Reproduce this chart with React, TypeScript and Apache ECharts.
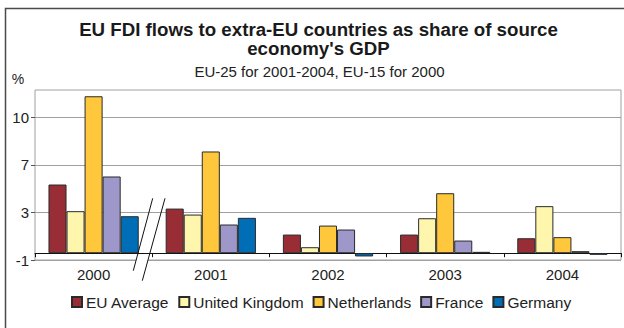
import React, { useEffect, useRef } from "react";
import * as echarts from "echarts";

const years = ["2000", "2001", "2002", "2003", "2004"];
const euAverage = [5.05, 3.28, 1.37, 1.37, 1.1];
const unitedKingdom = [3.09, 2.84, 0.44, 2.57, 3.46];
const netherlands = [11.54, 7.48, 2.03, 4.41, 1.18];
const france = [5.64, 2.11, 1.74, 0.93, 0.15];
const germany = [2.72, 2.6, -0.24, 0.1, -0.12];

const seriesNames = ["EU Average", "United Kingdom", "Netherlands", "France", "Germany"];
const seriesColors = ["#982D35", "#FFF6AE", "#FFC83C", "#9E97C9", "#006EB6"];

// Value-axis gridlines sit at -0.5, 3, 6.5, 10 (shown rounded as in the source)
const yMin = -0.5;
const yMax = 12;
const yStep = 3.5;
const yTickLabels = ["-1", "3", "7", "10"];

const titleLines = ["EU FDI flows to extra-EU countries as share of source", "economy's GDP"];
const subtitle = "EU-25 for 2001-2004, EU-15 for 2000";

export default function App() {
  const ref = useRef<HTMLDivElement>(null);
  useEffect(() => {
    if (!ref.current) return;
    const chart = echarts.init(ref.current, null, { renderer: "svg" });
    const font = "'Liberation Sans', Arial, sans-serif";
    const dataSets = [euAverage, unitedKingdom, netherlands, france, germany];
    const span = yMax - yMin;
    const option: any = {
      animation: false,
      textStyle: { fontFamily: font },
      grid: {
        left: 35,
        top: 90,
        right: 3,
        bottom: 68,
        show: true,
        borderColor: "#a0a0a0",
        borderWidth: 1,
      },
      legend: {
        left: 71,
        top: 294,
        padding: 0,
        icon: "rect",
        itemWidth: 10,
        itemHeight: 10,
        itemGap: 9,
        data: seriesNames,
        textStyle: { fontSize: 15.5, color: "#222", fontFamily: font, padding: [0, 0, 0, -1] },
      },
      xAxis: {
        type: "category",
        data: years,
        axisLine: {
          show: true,
          onZero: true,
          onZeroAxisIndex: 1,
          lineStyle: { color: "#111", width: 1 },
        },
        axisTick: { show: true, length: 4, lineStyle: { color: "#111" } },
        axisLabel: { fontSize: 15, color: "#222", margin: 7, fontFamily: font },
        splitLine: { show: false },
      },
      yAxis: [
        {
          type: "value",
          min: 0,
          max: span,
          interval: yStep,
          axisLine: { show: false },
          axisTick: {
            show: true,
            length: 4,
            lineStyle: { color: "#555" },
            customValues: [0, 3.5, 7, 10.5],
          },
          axisLabel: {
            fontSize: 15,
            color: "#222",
            margin: 6,
            fontFamily: font,
            formatter: (v: number, i: number) => (i < yTickLabels.length ? yTickLabels[i] : ""),
          },
          splitLine: { show: true, lineStyle: { color: "#a0a0a0", width: 1 } },
        },
        {
          type: "value",
          min: yMin,
          max: yMax,
          show: false,
          splitLine: { show: false },
        },
      ],
      series: seriesNames.map((name, i) => ({
        name,
        type: "bar",
        yAxisIndex: 1,
        data: dataSets[i],
        barGap: "0%",
        barCategoryGap: "23%",
        itemStyle: { color: seriesColors[i], borderColor: "#2a2a2a", borderWidth: 1 },
      })),
      graphic: [
        {
          type: "rect",
          z: 100,
          shape: { x: 5.5, y: 8.5, width: 700, height: 400 },
          style: { fill: "none", stroke: "#4a4a4a", lineWidth: 1.5 },
        },
        {
          type: "text",
          z: 100,
          x: 318.5,
          y: 29,
          style: {
            text: titleLines[0],
            fontSize: 18.7,
            fontWeight: "bold",
            fontFamily: font,
            fill: "#1a1a1a",
            align: "center",
            verticalAlign: "middle",
          },
        },
        {
          type: "text",
          z: 100,
          x: 318.5,
          y: 48,
          style: {
            text: titleLines[1],
            fontSize: 18.7,
            fontWeight: "bold",
            fontFamily: font,
            fill: "#1a1a1a",
            align: "center",
            verticalAlign: "middle",
          },
        },
        {
          type: "text",
          z: 100,
          x: 319.5,
          y: 71,
          style: {
            text: subtitle,
            fontSize: 15,
            fontFamily: font,
            fill: "#222",
            align: "center",
            verticalAlign: "middle",
          },
        },
        {
          type: "text",
          z: 100,
          x: 18,
          y: 79,
          style: {
            text: "%",
            fontSize: 14,
            fontFamily: font,
            fill: "#222",
            align: "center",
            verticalAlign: "middle",
          },
        },
        {
          type: "polygon",
          z: 100,
          shape: { points: [[137.3, 256], [149.3, 256], [147.1, 264], [135.1, 264]] },
          style: { fill: "#ffffff", stroke: "none" },
        },
        {
          type: "line",
          z: 101,
          shape: { x1: 152.7, y1: 198.3, x2: 133.3, y2: 270.7 },
          style: { stroke: "#111", lineWidth: 1 },
        },
        {
          type: "line",
          z: 101,
          shape: { x1: 165, y1: 198.3, x2: 142.3, y2: 280.7 },
          style: { stroke: "#111", lineWidth: 1 },
        },
      ],
    };
    chart.setOption(option);
    return () => chart.dispose();
  }, []);
  return (
    <div
      ref={ref}
      style={{ position: "fixed", left: 0, top: 0, width: 624, height: 328, background: "#fff" }}
    />
  );
}
